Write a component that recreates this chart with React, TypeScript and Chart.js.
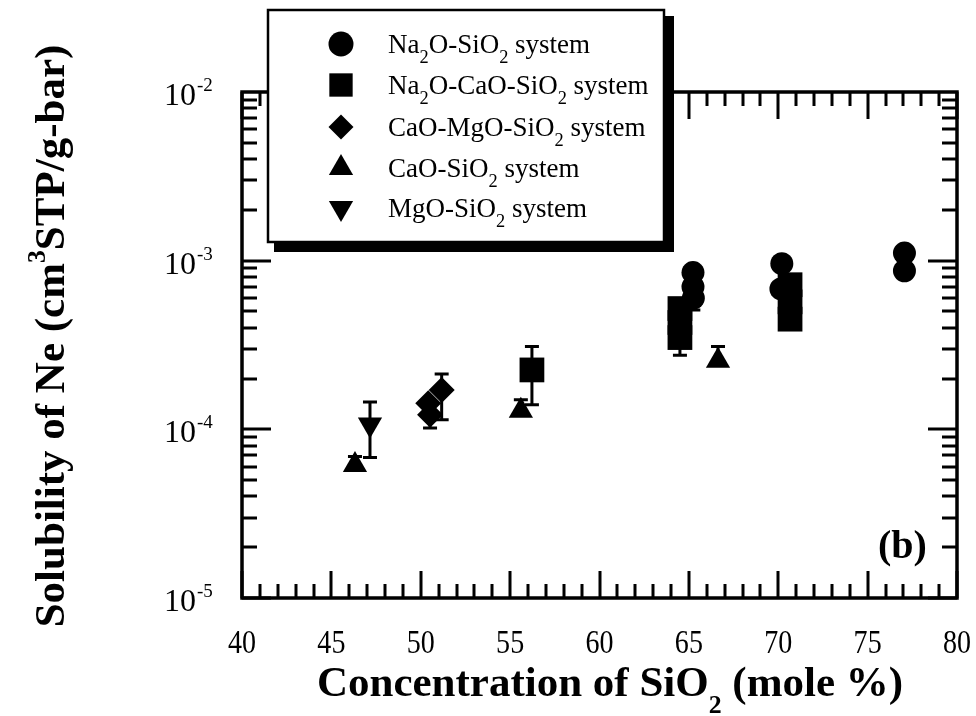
import React, { useEffect, useRef } from 'react';
import { Chart, registerables } from 'chart.js';

Chart.register(...registerables);

// ---------- data ----------
const xTickValues = [40, 45, 50, 55, 60, 65, 70, 75, 80];
const yTickValues = [1e-2, 1e-3, 1e-4, 1e-5];
const yTickExponents = ['-2', '-3', '-4', '-5'];

// Na2O-SiO2 system (circles)
const circleX = [65.23, 65.23, 65.25, 70.2, 70.15, 77.06, 77.06];
const circleY = [8.5e-4, 7.0e-4, 6.0e-4, 9.6e-4, 6.8e-4, 1.11e-3, 8.7e-4];
const circleErrLow = [null, null, 5.1e-4, null, null, null, null];
const circleErrHigh = [null, null, null, null, null, null, null];

// Na2O-CaO-SiO2 system (squares)
const squareX = [56.22, 64.5, 64.5, 64.5, 70.66, 70.66, 70.66];
const squareY = [2.25e-4, 5.2e-4, 4.3e-4, 3.5e-4, 7.2e-4, 5.7e-4, 4.5e-4];
const squareErrLow = [1.4e-4, null, null, 2.75e-4, null, null, null];
const squareErrHigh = [3.1e-4, null, null, null, null, null, null];

// CaO-MgO-SiO2 system (diamonds)
const diamondX = [51.17, 50.42, 50.52];
const diamondY = [1.71e-4, 1.43e-4, 1.22e-4];
const diamondErrLow = [1.14e-4, null, 1.02e-4];
const diamondErrHigh = [2.13e-4, null, null];

// CaO-SiO2 system (triangles)
const triangleX = [46.32, 55.6, 66.63];
const triangleY = [6.15e-5, 1.29e-4, 2.55e-4];
const triangleErrLow = [null, null, null];
const triangleErrHigh = [6.9e-5, 1.5e-4, 3.1e-4];

// MgO-SiO2 system (inverted triangles)
const invTriX = [47.16];
const invTriY = [1.07e-4];
const invTriErrLow = [6.8e-5];
const invTriErrHigh = [1.45e-4];

type Part = { t: string; s?: 'sub' | 'sup' };

const legendLabels: Part[][] = [
  [{ t: 'Na' }, { t: '2', s: 'sub' }, { t: 'O-SiO' }, { t: '2', s: 'sub' }, { t: ' system' }],
  [{ t: 'Na' }, { t: '2', s: 'sub' }, { t: 'O-CaO-SiO' }, { t: '2', s: 'sub' }, { t: ' system' }],
  [{ t: 'CaO-MgO-SiO' }, { t: '2', s: 'sub' }, { t: ' system' }],
  [{ t: 'CaO-SiO' }, { t: '2', s: 'sub' }, { t: ' system' }],
  [{ t: 'MgO-SiO' }, { t: '2', s: 'sub' }, { t: ' system' }],
];
const xTitle: Part[] = [{ t: 'Concentration of SiO' }, { t: '2', s: 'sub' }, { t: ' (mole %)' }];
const yTitle: Part[] = [{ t: 'Solubility of Ne (cm' }, { t: '3', s: 'sup' }, { t: 'STP/g-bar)' }];
const panelLabel = '(b)';

const FONT = '"Liberation Serif", "Times New Roman", Times, serif';

function richWidth(ctx: CanvasRenderingContext2D, parts: Part[], size: number, weight: string, subScale: number) {
  let w = 0;
  for (const p of parts) {
    ctx.font = `${weight} ${p.s ? size * subScale : size}px ${FONT}`;
    w += ctx.measureText(p.t).width;
  }
  return w;
}

function drawRich(
  ctx: CanvasRenderingContext2D,
  parts: Part[],
  x: number,
  y: number,
  size: number,
  weight: string,
  align: 'left' | 'center',
  subScale = 0.65,
  subShift = 0.4,
  supShift = 0.42
) {
  const total = richWidth(ctx, parts, size, weight, subScale);
  let cx = align === 'center' ? x - total / 2 : x;
  ctx.textAlign = 'left';
  ctx.textBaseline = 'alphabetic';
  for (const p of parts) {
    const sz = p.s ? size * subScale : size;
    ctx.font = `${weight} ${sz}px ${FONT}`;
    const dy = p.s === 'sub' ? size * subShift : p.s === 'sup' ? -size * supShift : 0;
    ctx.fillText(p.t, cx, y + dy);
    cx += ctx.measureText(p.t).width;
  }
}

function drawMarker(ctx: CanvasRenderingContext2D, style: string, x: number, y: number, r: number, rot = 0) {
  ctx.beginPath();
  if (style === 'circle') {
    ctx.arc(x, y, r, 0, Math.PI * 2);
  } else if (style === 'rect') {
    const h = r * Math.SQRT1_2;
    ctx.rect(x - h, y - h, 2 * h, 2 * h);
  } else if (style === 'rectRot') {
    ctx.moveTo(x, y - r); ctx.lineTo(x + r, y); ctx.lineTo(x, y + r); ctx.lineTo(x - r, y);
    ctx.closePath();
  } else {
    const base = (rot * Math.PI) / 180;
    for (let k = 0; k < 3; k++) {
      const a = base + (k * 2 * Math.PI) / 3;
      const px = x + Math.sin(a) * r;
      const py = y - Math.cos(a) * r;
      if (k === 0) ctx.moveTo(px, py); else ctx.lineTo(px, py);
    }
    ctx.closePath();
  }
  ctx.fill();
}

const errorSeries = [
  { x: circleX, y: circleY, lo: circleErrLow, hi: circleErrHigh },
  { x: squareX, y: squareY, lo: squareErrLow, hi: squareErrHigh },
  { x: diamondX, y: diamondY, lo: diamondErrLow, hi: diamondErrHigh },
  { x: triangleX, y: triangleY, lo: triangleErrLow, hi: triangleErrHigh },
  { x: invTriX, y: invTriY, lo: invTriErrLow, hi: invTriErrHigh },
];

const errorBarPlugin = {
  id: 'errorBars',
  beforeDatasetsDraw(chart: any) {
    const { ctx, scales } = chart;
    const xs = scales.x, ys = scales.y;
    ctx.save();
    ctx.strokeStyle = '#000';
    ctx.lineWidth = 3;
    for (const s of errorSeries) {
      s.x.forEach((xv: number, i: number) => {
        const lo = s.lo[i], hi = s.hi[i];
        if (lo == null && hi == null) return;
        const px = xs.getPixelForValue(xv);
        const y0 = ys.getPixelForValue(lo ?? s.y[i]);
        const y1 = ys.getPixelForValue(hi ?? s.y[i]);
        ctx.beginPath();
        ctx.moveTo(px, y0);
        ctx.lineTo(px, y1);
        if (lo != null) { ctx.moveTo(px - 7, y0); ctx.lineTo(px + 7, y0); }
        if (hi != null) { ctx.moveTo(px - 7, y1); ctx.lineTo(px + 7, y1); }
        ctx.stroke();
      });
    }
    ctx.restore();
  },
};

const decorPlugin = {
  id: 'decor',
  beforeDraw(chart: any) {
    const { ctx, width, height } = chart;
    ctx.save();
    ctx.fillStyle = '#fff';
    ctx.fillRect(0, 0, width, height);
    ctx.restore();
  },
  afterDraw(chart: any) {
    const { ctx, chartArea, scales } = chart;
    const xs = scales.x, ys = scales.y;
    const { left, right, top, bottom } = chartArea;
    ctx.save();
    ctx.strokeStyle = '#000';
    ctx.fillStyle = '#000';
    ctx.lineCap = 'butt';

    // ticks (inward on all four sides)
    ctx.lineWidth = 3;
    ctx.beginPath();
    for (let v = xs.min; v <= xs.max; v += 1) {
      const px = Math.round(xs.getPixelForValue(v));
      const len = v % 5 === 0 ? 27 : 14;
      ctx.moveTo(px, bottom); ctx.lineTo(px, bottom - len);
      ctx.moveTo(px, top); ctx.lineTo(px, top + len);
    }
    for (let d = -5; d <= -3; d++) {
      for (let m = 1; m <= 9; m++) {
        const v = m * Math.pow(10, d);
        const py = Math.round(ys.getPixelForValue(v));
        const len = m === 1 ? 29 : 15;
        ctx.moveTo(left, py); ctx.lineTo(left + len, py);
        ctx.moveTo(right, py); ctx.lineTo(right - len, py);
      }
    }
    ctx.stroke();

    // frame
    ctx.lineWidth = 3.5;
    ctx.strokeRect(left, top, right - left, bottom - top);

    // x tick labels (slightly condensed)
    ctx.font = `33px ${FONT}`;
    ctx.textAlign = 'center';
    ctx.textBaseline = 'alphabetic';
    for (const v of xTickValues) {
      const px = xs.getPixelForValue(v);
      ctx.save();
      ctx.translate(px, bottom + 55);
      ctx.scale(0.85, 1);
      ctx.fillText(String(v), 0, 0);
      ctx.restore();
    }

    // y tick labels 10^n
    yTickValues.forEach((v, i) => {
      const py = ys.getPixelForValue(v);
      ctx.font = `32px ${FONT}`;
      ctx.textAlign = 'left';
      ctx.fillText('10', 164, py + 13);
      const w = ctx.measureText('10').width;
      ctx.font = `19px ${FONT}`;
      ctx.fillText(yTickExponents[i], 164 + w + 1, py - 1);
    });

    // legend box with shadow
    const bx = 268, by = 10, bw = 396, bh = 232;
    ctx.fillStyle = '#000';
    ctx.fillRect(bx + 6, by + 6, bw + 4, bh + 4);
    ctx.fillStyle = '#fff';
    ctx.fillRect(bx, by, bw, bh);
    ctx.strokeStyle = '#000';
    ctx.lineWidth = 2.5;
    ctx.strokeRect(bx, by, bw, bh);

    const styles = [
      { s: 'circle', r: 12.5, rot: 0 },
      { s: 'rect', r: 16.5, rot: 0 },
      { s: 'rectRot', r: 12.5, rot: 0 },
      { s: 'triangle', r: 14, rot: 0 },
      { s: 'triangle', r: 14, rot: 180 },
    ];
    const rows = [44, 85, 127, 168, 208];
    legendLabels.forEach((parts, i) => {
      const st = styles[i];
      ctx.fillStyle = '#000';
      drawMarker(ctx, st.s, 341, rows[i], st.r, st.rot);
      drawRich(ctx, parts, 388, rows[i] + 9, 27, 'normal', 'left', 0.68, 0.36);
    });

    // axis titles
    ctx.fillStyle = '#000';
    drawRich(ctx, xTitle, 610, 696, 43, 'bold', 'center', 0.6, 0.4);
    ctx.save();
    ctx.translate(64, 336);
    ctx.rotate(-Math.PI / 2);
    drawRich(ctx, yTitle, 0, 0, 43, 'bold', 'center', 0.6, 0.4, 0.45);
    ctx.restore();

    // panel label
    ctx.font = `bold 40px ${FONT}`;
    ctx.textAlign = 'left';
    ctx.fillText(panelLabel, 878, 558);

    ctx.restore();
  },
};

function pts(xs: number[], ys: number[]) {
  return xs.map((x, i) => ({ x, y: ys[i] }));
}

export default function App() {
  const ref = useRef<HTMLCanvasElement>(null);
  useEffect(() => {
    document.body.style.margin = '0';
    const canvas = ref.current!;
    const common = {
      backgroundColor: '#000',
      borderColor: '#000',
      borderWidth: 0,
      showLine: false,
      clip: false as any,
    };
    const chart = new Chart(canvas, {
      type: 'scatter',
      data: {
        datasets: [
          { ...common, label: 'Na2O-SiO2 system', data: pts(circleX, circleY), pointStyle: 'circle', pointRadius: 11.5 },
          { ...common, label: 'Na2O-CaO-SiO2 system', data: pts(squareX, squareY), pointStyle: 'rect', pointRadius: 17.5 },
          { ...common, label: 'CaO-MgO-SiO2 system', data: pts(diamondX, diamondY), pointStyle: 'rectRot', pointRadius: 13 },
          { ...common, label: 'CaO-SiO2 system', data: pts(triangleX, triangleY), pointStyle: 'triangle', pointRadius: 14 },
          { ...common, label: 'MgO-SiO2 system', data: pts(invTriX, invTriY), pointStyle: 'triangle', pointRotation: 180, pointRadius: 14 },
        ] as any,
      },
      options: {
        responsive: false,
        animation: false,
        devicePixelRatio: 1,
        layout: { padding: { left: 242, right: 19, top: 92, bottom: 118 } },
        plugins: { legend: { display: false }, tooltip: { enabled: false } },
        events: [],
        scales: {
          x: { type: 'linear', min: 40, max: 80, display: false },
          y: { type: 'logarithmic', min: 1e-5, max: 1e-2, display: false },
        },
      },
      plugins: [decorPlugin, errorBarPlugin],
    });
    return () => chart.destroy();
  }, []);
  return <canvas ref={ref} width={976} height={716} style={{ display: 'block' }} />;
}
